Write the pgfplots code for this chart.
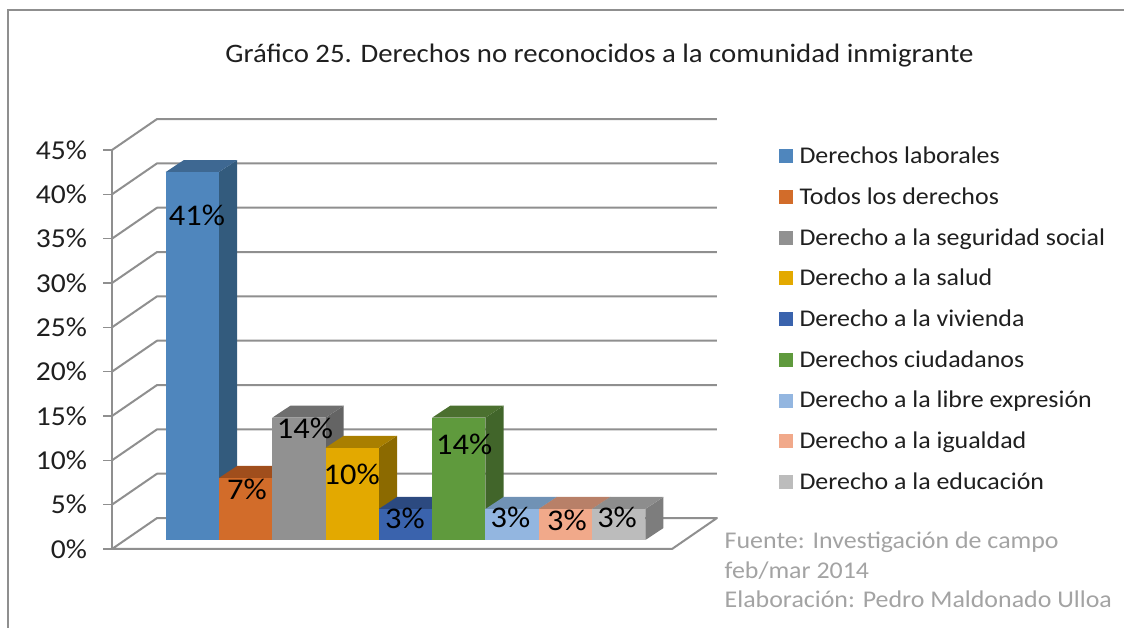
\documentclass[border=0pt]{standalone}
\usepackage{pgfplots}
\pgfplotsset{compat=1.18}
\usepackage{fontspec}
\setmainfont[FakeStretch=1.08]{Carlito}
\definecolor{gridc}{HTML}{8F8F8F}
\definecolor{txt}{HTML}{1F1F1F}
\definecolor{srcc}{HTML}{A3A3A3}
\definecolor{f1}{HTML}{4F86BD}\definecolor{s1}{HTML}{335B7D}\definecolor{t1}{HTML}{3E6892}
\definecolor{f2}{HTML}{D26C2A}\definecolor{s2}{HTML}{8A4A1C}\definecolor{t2}{HTML}{A04E1C}
\definecolor{f3}{HTML}{919191}\definecolor{s3}{HTML}{646464}\definecolor{t3}{HTML}{6F6F6F}
\definecolor{f4}{HTML}{E3A900}\definecolor{s4}{HTML}{8C6A00}\definecolor{t4}{HTML}{A97F00}
\definecolor{f5}{HTML}{3A63AD}\definecolor{s5}{HTML}{284578}\definecolor{t5}{HTML}{2C4A80}
\definecolor{f6}{HTML}{5F9A3D}\definecolor{s6}{HTML}{41652A}\definecolor{t6}{HTML}{4B702F}
\definecolor{f7}{HTML}{93B6E0}\definecolor{s7}{HTML}{65809C}\definecolor{t7}{HTML}{7092B5}
\definecolor{f8}{HTML}{F1A98A}\definecolor{s8}{HTML}{A87660}\definecolor{t8}{HTML}{B88068}
\definecolor{f9}{HTML}{BCBCBC}\definecolor{s9}{HTML}{7D7D7D}\definecolor{t9}{HTML}{8D8D8D}
\pgfplotsset{
  wall/.style={forget plot,gridc,line width=1.5pt,line join=round},
  face/.style={forget plot,draw=none,fill=#1,yshift=6.75pt},
  front/.style={ybar,bar width=39.98pt,bar shift=0pt,draw=none,fill=#1,yshift=6.75pt,
    legend image code/.code={\path (0pt,0pt) (13.5pt,0pt);\fill[#1,yshift=-6.75pt] (0pt,-5.25pt) rectangle (10.5pt,5.25pt);}},
}
\newcommand{\lab}[3]{\node[font=\fontsize{22.5}{26}\selectfont,text=black] at (axis cs:#1,#2) {#3};}
\begin{document}
\begin{tikzpicture}
\useasboundingbox (0,0) rectangle (843pt,471pt);
\draw[gridc,line width=1pt] (6pt,0pt) -- (6pt,463.5pt) -- (843pt,463.5pt);
\node[font=\fontsize{20}{24}\selectfont,text=txt] at (449.6pt,429pt) {Gráfico 25. Derechos no reconocidos a la comunidad inmigrante};
\begin{axis}[
  at={(84pt,59.25pt)},anchor=south west,scale only axis,width=420pt,height=299.25pt,
  xmin=-1.0075,xmax=9.5,ymin=0,ymax=45,clip=false,
  axis x line=none,axis y line*=left,
  axis line style={gridc,line width=1.5pt,-},
  ytick={0,5,...,45},xtick=\empty,
  tick align=outside,major tick length=6.75pt,
  tick style={gridc,line width=1pt},
  /pgf/number format/assume math mode=true,
  yticklabel={\pgfmathprintnumber{\tick}\%},
  yticklabel style={font=\fontsize{20.5}{26}\selectfont,text=txt,xshift=-8.5pt},
  legend style={at={(axis cs:11.5,45.68)},anchor=north west,draw=none,fill=none,inner sep=0pt,
    font=\fontsize{18}{21}\selectfont,text=txt,row sep=12.55pt},
  legend cell align=left,
]
% floor
\addplot[wall,fill=white] coordinates {(-1.0075,0) (9.5,0) (10.343,3.49) (-0.163,3.49) (-1.0075,0)};
% back wall and side wall lines
\addplot[wall] coordinates {(-1.0075,5) (-0.163,8.49) (10.343,8.49)};
\addplot[wall] coordinates {(-1.0075,10) (-0.163,13.49) (10.343,13.49)};
\addplot[wall] coordinates {(-1.0075,15) (-0.163,18.49) (10.343,18.49)};
\addplot[wall] coordinates {(-1.0075,20) (-0.163,23.49) (10.343,23.49)};
\addplot[wall] coordinates {(-1.0075,25) (-0.163,28.49) (10.343,28.49)};
\addplot[wall] coordinates {(-1.0075,30) (-0.163,33.49) (10.343,33.49)};
\addplot[wall] coordinates {(-1.0075,35) (-0.163,38.49) (10.343,38.49)};
\addplot[wall] coordinates {(-1.0075,40) (-0.163,43.49) (10.343,43.49)};
\addplot[wall] coordinates {(-1.0075,45) (-0.163,48.49) (10.343,48.49)};
% bar 1
\addplot[face=s1] coordinates {(1,0) (1.34,1.35) (1.34,42.85) (1,41.5)} -- cycle;
\addplot[face=t1] coordinates {(0,41.5) (1,41.5) (1.34,42.85) (0.34,42.85)} -- cycle;
\addplot[front=f1] coordinates {(0.5,41.5)};
\addlegendentry{Derechos laborales}
% bar 2
\addplot[face=s2] coordinates {(2,0) (2.34,1.35) (2.34,8.35) (2,7)} -- cycle;
\addplot[face=t2] coordinates {(1,7) (2,7) (2.34,8.35) (1.34,8.35)} -- cycle;
\addplot[front=f2] coordinates {(1.5,7)};
\addlegendentry{Todos los derechos}
% bar 3
\addplot[face=s3] coordinates {(3,0) (3.34,1.35) (3.34,15.15) (3,13.8)} -- cycle;
\addplot[face=t3] coordinates {(2,13.8) (3,13.8) (3.34,15.15) (2.34,15.15)} -- cycle;
\addplot[front=f3] coordinates {(2.5,13.8)};
\addlegendentry{Derecho a la seguridad social}
% bar 4
\addplot[face=s4] coordinates {(4,0) (4.34,1.35) (4.34,11.75) (4,10.4)} -- cycle;
\addplot[face=t4] coordinates {(3,10.4) (4,10.4) (4.34,11.75) (3.34,11.75)} -- cycle;
\addplot[front=f4] coordinates {(3.5,10.4)};
\addlegendentry{Derecho a la salud}
% bar 5
\addplot[face=s5] coordinates {(5,0) (5.34,1.35) (5.34,4.85) (5,3.5)} -- cycle;
\addplot[face=t5] coordinates {(4,3.5) (5,3.5) (5.34,4.85) (4.34,4.85)} -- cycle;
\addplot[front=f5] coordinates {(4.5,3.5)};
\addlegendentry{Derecho a la vivienda}
% bar 6
\addplot[face=s6] coordinates {(6,0) (6.34,1.35) (6.34,15.15) (6,13.8)} -- cycle;
\addplot[face=t6] coordinates {(5,13.8) (6,13.8) (6.34,15.15) (5.34,15.15)} -- cycle;
\addplot[front=f6] coordinates {(5.5,13.8)};
\addlegendentry{Derechos ciudadanos}
% bar 7
\addplot[face=s7] coordinates {(7,0) (7.34,1.35) (7.34,4.85) (7,3.5)} -- cycle;
\addplot[face=t7] coordinates {(6,3.5) (7,3.5) (7.34,4.85) (6.34,4.85)} -- cycle;
\addplot[front=f7] coordinates {(6.5,3.5)};
\addlegendentry{Derecho a la libre expresión}
% bar 8
\addplot[face=s8] coordinates {(8,0) (8.34,1.35) (8.34,4.85) (8,3.5)} -- cycle;
\addplot[face=t8] coordinates {(7,3.5) (8,3.5) (8.34,4.85) (7.34,4.85)} -- cycle;
\addplot[front=f8] coordinates {(7.5,3.5)};
\addlegendentry{Derecho a la igualdad}
% bar 9
\addplot[face=s9] coordinates {(9,0) (9.34,1.35) (9.34,4.85) (9,3.5)} -- cycle;
\addplot[face=t9] coordinates {(8,3.5) (9,3.5) (9.34,4.85) (8.34,4.85)} -- cycle;
\addplot[front=f9] coordinates {(8.5,3.5)};
\addlegendentry{Derecho a la educación}
\lab{0.587}{37.66}{41\%}
\lab{1.525}{6.76}{7\%}
\lab{2.613}{13.64}{14\%}
\lab{3.49}{8.46}{10\%}
\lab{4.49}{3.5}{3\%}
\lab{5.6}{11.84}{14\%}
\lab{6.47}{3.57}{3\%}
\lab{7.53}{3.27}{3\%}
\lab{8.47}{3.6}{3\%}
\end{axis}
\node[anchor=west,font=\fontsize{18}{21}\selectfont,text=srcc] at (540pt,064.5pt) {Fuente:  Investigación de campo};
\node[anchor=west,font=\fontsize{18}{21}\selectfont,text=srcc] at (540pt,043pt) {feb/mar 2014};
\node[anchor=west,font=\fontsize{18}{21}\selectfont,text=srcc] at (540pt,021.25pt) {Elaboración: Pedro Maldonado Ulloa};
\end{tikzpicture}
\end{document}
